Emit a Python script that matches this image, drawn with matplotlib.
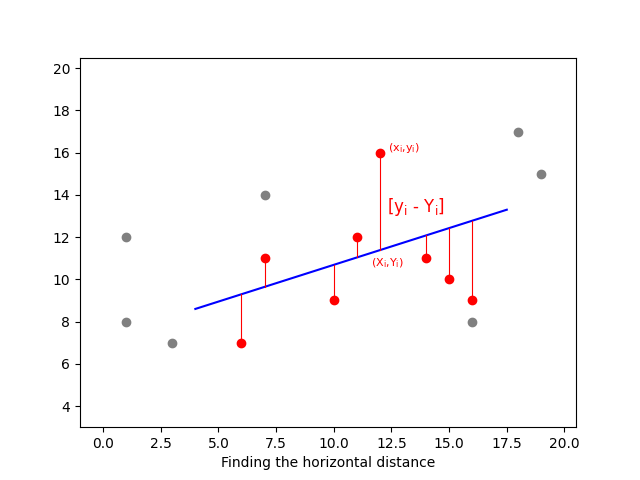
import numpy as np
import matplotlib.pyplot as plt

grey_x = [1, 1, 3, 7, 16, 18, 19]
grey_y = [12, 8, 7, 14, 8, 17, 15]
red_x = [6, 7, 10, 11, 12, 14, 15, 16]
red_y = [7, 11, 9, 12, 16, 11, 10, 9]
slope = 0.348
intercept = 7.208
line_x = np.array([4, 17.5])

fig = plt.figure(figsize=(6.4, 4.8), dpi=100)
ax = fig.add_subplot(111)
ax.scatter(grey_x, grey_y, color='grey', zorder=3)
ax.scatter(red_x, red_y, color='red', zorder=3)
ax.plot(line_x, slope * line_x + intercept, color='blue')
for x, y in zip(red_x, red_y):
    ax.plot([x, x], [y, slope * x + intercept], color='red', lw=0.8)

ax.text(12.35, 16.1, r'(x$_{\rm i}$,y$_{\rm i}$)', color='red', fontsize=8)
ax.text(12.3, 13.2, r'[y$_{\rm i}$ - Y$_{\rm i}$]', color='red', fontsize=12)
ax.text(11.6, 10.6, r'(X$_{\rm i}$,Y$_{\rm i}$)', color='red', fontsize=8)

ax.set_xlim(-1, 20.5)
ax.set_ylim(3, 20.5)
ax.set_xlabel('Finding the horizontal distance')
fig.savefig('out.png')
